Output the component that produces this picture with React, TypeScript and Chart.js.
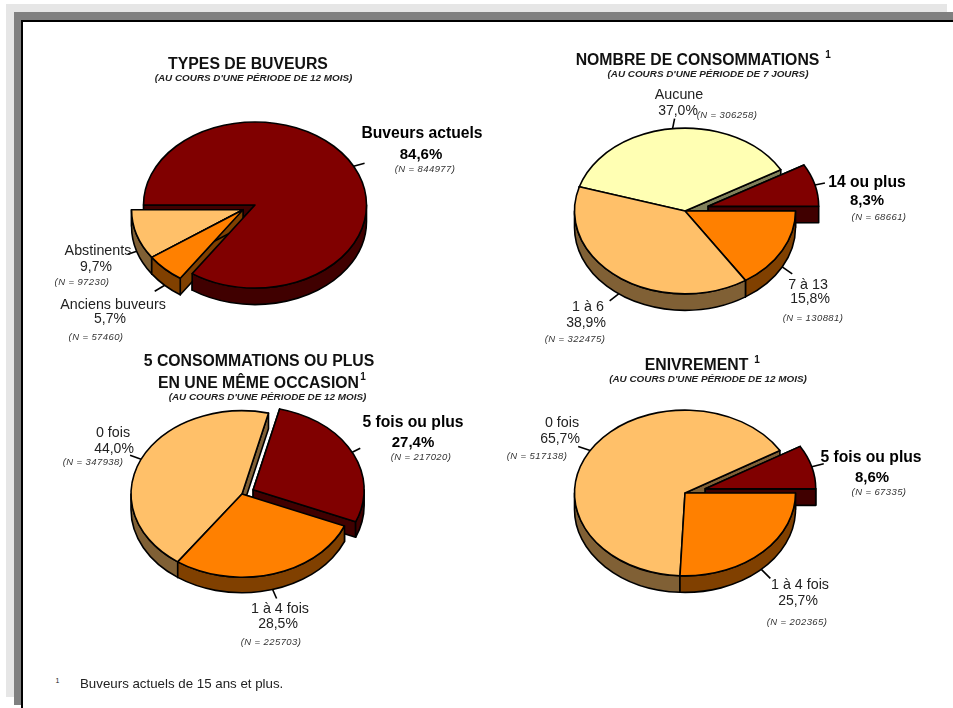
import React, { useEffect, useRef } from "react";
import { Chart, registerables } from "chart.js";

Chart.register(...registerables);

const DARK_RED = "#800000";
const ORANGE = "#ff8000";
const LIGHT_ORANGE = "#ffc069";
const PALE_YELLOW = "#ffffb3";

const typesCategories = ["Buveurs actuels", "Anciens buveurs", "Abstinents"];
const typesValues = [844977, 57460, 97230];
const typesPercents = ["84,6%", "5,7%", "9,7%"];

const drinksCategories = ["14 ou plus", "7 à 13", "1 à 6", "Aucune"];
const drinksValues = [68661, 130881, 322475, 306258];
const drinksPercents = ["8,3%", "15,8%", "38,9%", "37,0%"];

const fivePlusCategories = ["5 fois ou plus", "1 à 4 fois", "0 fois"];
const fivePlusValues = [217020, 225703, 347938];
const fivePlusPercents = ["27,4%", "28,5%", "44,0%"];

const drunkCategories = ["5 fois ou plus", "1 à 4 fois", "0 fois"];
const drunkValues = [67335, 202365, 517138];
const drunkPercents = ["8,6%", "25,7%", "65,7%"];

type Pie = {
  categories: string[];
  values: number[];
  percents: string[];
  colors: string[];
  cx: number;
  cy: number;
  radius: number;
  squash: number;
  depth: number;
  rotation: number;
  exploded: number[];
  explodeDistance: number;
  bold: number;
  leaders: number[][];
  labelAt: number[][];
};

const PIES: Pie[] = [
  {
    categories: typesCategories, values: typesValues, percents: typesPercents,
    colors: [DARK_RED, ORANGE, LIGHT_ORANGE],
    cx: 254.5, cy: 205, radius: 111.5, squash: 0.745, depth: 16.5, rotation: 270,
    exploded: [1, 2], explodeDistance: 13.5, bold: 0,
    leaders: [[11, -3], [-10, 6], [-9, 3]],
    labelAt: [
      [422, 133, 421, 153, 425, 169],
      [113, 304, 110, 318, 96, 337],
      [98, 250, 96, 266, 82, 282],
    ],
  },
  {
    categories: drinksCategories, values: drinksValues, percents: drinksPercents,
    colors: [DARK_RED, ORANGE, LIGHT_ORANGE, PALE_YELLOW],
    cx: 684.5, cy: 211, radius: 110.5, squash: 0.75, depth: 16.5, rotation: 60.1,
    exploded: [0], explodeDistance: 24, bold: 0,
    leaders: [[10, -2], [10, 7], [-9, 7], [2, -10]],
    labelAt: [
      [867, 182, 867, 199, 879, 217],
      [808, 284, 810, 298, 813, 318],
      [588, 306, 586, 322, 575, 339],
      [679, 94, 678, 110, 727, 115],
    ],
  },
  {
    categories: fivePlusCategories, values: fivePlusValues, percents: fivePlusPercents,
    colors: [DARK_RED, ORANGE, LIGHT_ORANGE],
    cx: 242, cy: 494, radius: 111, squash: 0.75, depth: 15.5, rotation: 13.8,
    exploded: [0], explodeDistance: 12.5, bold: 0,
    leaders: [[8, -4], [4, 9], [-11, -4]],
    labelAt: [
      [413, 422, 413, 441, 421, 457],
      [280, 608, 278, 623, 271, 642],
      [113, 432, 114, 448, 93, 462],
    ],
  },
  {
    categories: drunkCategories, values: drunkValues, percents: drunkPercents,
    colors: [DARK_RED, ORANGE, LIGHT_ORANGE],
    cx: 684.5, cy: 493, radius: 110.5, squash: 0.75, depth: 16.5, rotation: 59.2,
    exploded: [0], explodeDistance: 21, bold: 0,
    leaders: [[12, -3], [9, 9], [-12, -4]],
    labelAt: [
      [871, 457, 872, 476, 879, 492],
      [800, 584, 798, 600, 797, 622],
      [562, 422, 560, 438, 537, 456],
    ],
  },
];

const TITLES: { text: string; x: number; y: number; kind: "main" | "sub" | "sup" }[] = [
  { text: "TYPES DE BUVEURS", x: 248, y: 64, kind: "main" },
  { text: "(AU COURS D'UNE PÉRIODE DE 12 MOIS)", x: 253.5, y: 78, kind: "sub" },
  { text: "NOMBRE DE CONSOMMATIONS", x: 697.5, y: 60, kind: "main" },
  { text: "1", x: 828, y: 55, kind: "sup" },
  { text: "(AU COURS D'UNE PÉRIODE DE 7 JOURS)", x: 708, y: 74, kind: "sub" },
  { text: "5 CONSOMMATIONS OU PLUS", x: 259, y: 361, kind: "main" },
  { text: "EN UNE MÊME OCCASION", x: 258.5, y: 383, kind: "main" },
  { text: "1", x: 363, y: 377, kind: "sup" },
  { text: "(AU COURS D'UNE PÉRIODE DE 12 MOIS)", x: 267.5, y: 397, kind: "sub" },
  { text: "ENIVREMENT", x: 696.5, y: 365, kind: "main" },
  { text: "1", x: 757, y: 360, kind: "sup" },
  { text: "(AU COURS D'UNE PÉRIODE DE 12 MOIS)", x: 708, y: 379, kind: "sub" },
];

const FOOTNOTE = "Buveurs actuels de 15 ans et plus.";

const halve = (hex: string) => {
  const n = parseInt(hex.slice(1), 16);
  const c = [(n >> 16) & 255, (n >> 8) & 255, n & 255].map((v) => Math.round(v / 2));
  return `rgb(${c[0]},${c[1]},${c[2]})`;
};

const pie3d = {
  id: "pie3d",
  beforeDatasetsDraw(chart: any, _args: any, opts: any) {
    const ctx: CanvasRenderingContext2D = chart.ctx;
    const arcs: any[] = chart.getDatasetMeta(0).data;
    const { squash, depth, exploded, explodeDistance, leaders } = opts;
    const TAU = Math.PI * 2;
    const grp = arcs.filter((_, i) => exploded.includes(i));
    const gm = (grp[0].startAngle + grp[grp.length - 1].endAngle) / 2;
    const shift = (i: number) =>
      exploded.includes(i)
        ? [Math.cos(gm) * explodeDistance, Math.sin(gm) * explodeDistance * squash]
        : [0, 0];
    const order = arcs
      .map((el, i) => ({ el, i, key: Math.sin((el.startAngle + el.endAngle) / 2) }))
      .sort((a, b) => a.key - b.key);

    ctx.save();
    ctx.lineWidth = 1.6;
    ctx.lineJoin = "round";
    ctx.strokeStyle = "#000";

    const cuts = (el: any, i: number) => {
      const [ox, oy] = shift(i);
      const cx = el.x + ox;
      const cy = el.y + oy;
      const R = el.outerRadius;
      ctx.fillStyle = halve(el.options.backgroundColor);
      for (const a of [el.startAngle, el.endAngle]) {
        const x = cx + R * Math.cos(a);
        const y = cy + R * squash * Math.sin(a);
        ctx.beginPath();
        ctx.moveTo(cx, cy);
        ctx.lineTo(x, y);
        ctx.lineTo(x, y + depth);
        ctx.lineTo(cx, cy + depth);
        ctx.closePath();
        ctx.fill();
        ctx.stroke();
      }
    };

    const body = (el: any, i: number) => {
      const [ox, oy] = shift(i);
      const cx = el.x + ox;
      const cy = el.y + oy;
      const R = el.outerRadius;
      const a0 = el.startAngle;
      const a1 = el.endAngle;
      ctx.fillStyle = halve(el.options.backgroundColor);
      for (let k = -1; k <= 2; k++) {
        const lo = Math.max(a0, TAU * k);
        const hi = Math.min(a1, Math.PI + TAU * k);
        if (lo < hi) {
          ctx.beginPath();
          ctx.ellipse(cx, cy, R, R * squash, 0, lo, hi);
          ctx.ellipse(cx, cy + depth, R, R * squash, 0, hi, lo, true);
          ctx.closePath();
          ctx.fill();
          ctx.stroke();
        }
      }
      ctx.save();
      ctx.translate(cx, cy);
      ctx.scale(1, squash);
      ctx.translate(-el.x, -el.y);
      el.draw(ctx);
      ctx.restore();
      ctx.beginPath();
      ctx.moveTo(cx, cy);
      ctx.ellipse(cx, cy, R, R * squash, 0, a0, a1);
      ctx.closePath();
      ctx.stroke();
    };

    // Inner cut faces of the pie that stays in place sit behind everything.
    order.filter((o) => !exploded.includes(o.i)).forEach((o) => cuts(o.el, o.i));
    // Pulled-out slices come next, complete.
    order.filter((o) => exploded.includes(o.i)).forEach((o) => {
      cuts(o.el, o.i);
      body(o.el, o.i);
    });
    // The pie that stays in place hides the lower part of their faces.
    order.filter((o) => !exploded.includes(o.i)).forEach((o) => body(o.el, o.i));

    arcs.forEach((el, i) => {
      const [ox, oy] = shift(i);
      const m = (el.startAngle + el.endAngle) / 2;
      const s = Math.sin(m);
      const sx = el.x + ox + el.outerRadius * Math.cos(m);
      const sy = el.y + oy + el.outerRadius * squash * s + (s > 0 ? depth : 0);
      ctx.beginPath();
      ctx.moveTo(sx, sy);
      ctx.lineTo(sx + leaders[i][0], sy + leaders[i][1]);
      ctx.stroke();
    });
    ctx.restore();
    return false;
  },
};

const CANVAS_W = 320;
const CANVAS_H = 320;

function PieCanvas({ pie }: { pie: Pie }) {
  const ref = useRef<HTMLCanvasElement>(null);
  useEffect(() => {
    const chart = new Chart(ref.current as HTMLCanvasElement, {
      type: "pie",
      data: {
        labels: pie.categories,
        datasets: [{ data: pie.values, backgroundColor: pie.colors, borderWidth: 0 }],
      },
      options: {
        responsive: false,
        animation: false,
        radius: pie.radius,
        rotation: pie.rotation,
        layout: { padding: 0 },
        plugins: {
          legend: { display: false },
          tooltip: { enabled: false },
          pie3d: {
            squash: pie.squash,
            depth: pie.depth,
            exploded: pie.exploded,
            explodeDistance: pie.explodeDistance,
            leaders: pie.leaders,
          },
        },
      } as any,
      plugins: [pie3d as any],
    });
    return () => chart.destroy();
  }, [pie]);
  return (
    <canvas
      ref={ref}
      width={CANVAS_W}
      height={CANVAS_H}
      style={{
        position: "absolute",
        left: pie.cx - CANVAS_W / 2,
        top: pie.cy - CANVAS_H / 2,
        width: CANVAS_W,
        height: CANVAS_H,
      }}
    />
  );
}

const FONT = '"Liberation Sans", Arial, sans-serif';

function Txt({ x, y, style, children }: any) {
  return (
    <div
      style={{
        position: "absolute",
        left: x,
        top: y,
        transform: "translate(-50%,-50%)",
        whiteSpace: "nowrap",
        fontFamily: FONT,
        lineHeight: 1,
        color: "#000",
        ...style,
      }}
    >
      {children}
    </div>
  );
}

const titleStyle: Record<string, React.CSSProperties> = {
  main: { fontSize: 15.8, fontWeight: 700, color: "#111" },
  sub: { fontSize: 9.9, fontWeight: 700, fontStyle: "italic", color: "#222" },
  sup: { fontSize: 10, fontWeight: 700, color: "#111" },
};

export default function App() {
  return (
    <div style={{ position: "fixed", left: 0, top: 0, width: 953, height: 708, overflow: "hidden", background: "#fff" }}>
      <div style={{ position: "absolute", left: 6, top: 4, width: 941, height: 693, background: "#e6e6e6" }} />
      <div style={{ position: "absolute", left: 14, top: 12, width: 939, height: 693, background: "#808080" }} />
      <div style={{ position: "absolute", left: 21, top: 20, width: 932, height: 688, background: "#000" }} />
      <div style={{ position: "absolute", left: 23, top: 22, width: 930, height: 686, background: "#fff" }} />

      {PIES.map((p, i) => (
        <PieCanvas key={i} pie={p} />
      ))}

      {TITLES.map((t, i) => (
        <Txt key={i} x={t.x} y={t.y} style={titleStyle[t.kind]}>
          {t.text}
        </Txt>
      ))}

      {PIES.map((p, i) =>
        p.categories.map((c, j) => {
          const a = p.labelAt[j];
          const bold = j === p.bold;
          const s: React.CSSProperties = { fontSize: bold ? 15.7 : 14.3, fontWeight: bold ? 700 : 400, color: bold ? "#000" : "#222" };
          return (
            <React.Fragment key={`${i}-${j}`}>
              <Txt x={a[0]} y={a[1]} style={s}>{c}</Txt>
              <Txt x={a[2]} y={a[3]} style={{ ...s, fontSize: bold ? 15 : 14 }}>{p.percents[j]}</Txt>
              <Txt x={a[4]} y={a[5]} style={{ fontSize: 9.5, fontStyle: "italic", color: "#333", letterSpacing: 0.4 }}>
                {`(N = ${p.values[j]})`}
              </Txt>
            </React.Fragment>
          );
        })
      )}

      <Txt x={57.5} y={680} style={{ fontSize: 7, color: "#222" }}>1</Txt>
      <div style={{ position: "absolute", left: 80, top: 684, transform: "translateY(-50%)", fontFamily: FONT, fontSize: 13.3, lineHeight: 1, color: "#222", whiteSpace: "nowrap" }}>
        {FOOTNOTE}
      </div>
    </div>
  );
}
